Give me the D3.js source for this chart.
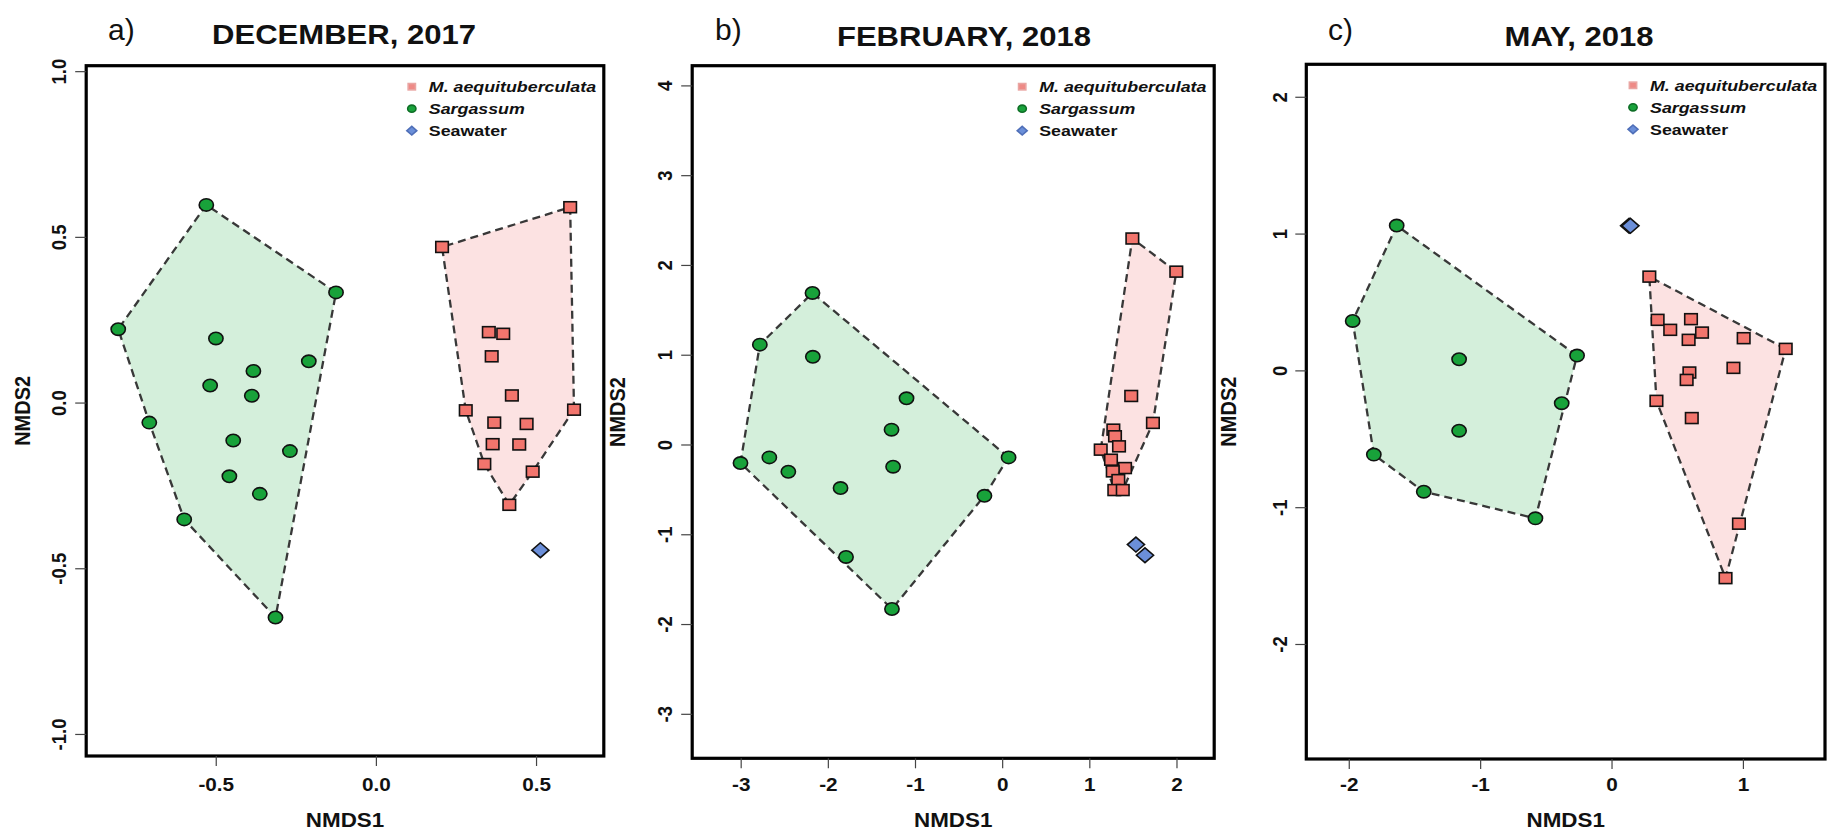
<!DOCTYPE html>
<html>
<head>
<meta charset="utf-8">
<script src="https://cdn.jsdelivr.net/npm/d3@7"></script>
<style>
  body { margin: 0; background: #fff; }
  svg { display: block; }
  text { font-family: "Liberation Sans", Arial, sans-serif; fill: #111; }
</style>
</head>
<body>
<svg id="chart" width="1841" height="833"></svg>
<script>
// ---- data (NMDS1, NMDS2) ----
const decMaeq = [[0.205,0.471],[0.605,0.591],[0.351,0.214],[0.396,0.209],[0.360,0.141],[0.423,0.023],
  [0.279,-0.022],[0.617,-0.020],[0.368,-0.059],[0.469,-0.063],[0.363,-0.124],[0.446,-0.125],
  [0.337,-0.184],[0.488,-0.207],[0.415,-0.307]];
const decSarg = [[-0.531,0.598],[-0.126,0.334],[-0.806,0.223],[-0.501,0.195],[-0.211,0.126],[-0.384,0.097],
  [-0.519,0.053],[-0.389,0.022],[-0.709,-0.059],[-0.447,-0.113],[-0.270,-0.145],[-0.459,-0.221],
  [-0.364,-0.274],[-0.600,-0.351],[-0.315,-0.647]];
const decSea = [[0.512,-0.444]];

const febMaeq = [[1.488,2.300],[1.992,1.931],[1.475,0.546],[1.724,0.246],[1.270,0.171],[1.289,0.097],
  [1.335,-0.015],[1.125,-0.052],[1.243,-0.164],[1.404,-0.257],[1.263,-0.294],[1.327,-0.391],
  [1.281,-0.502],[1.378,-0.502]];
const febSarg = [[-2.182,1.694],[-2.786,1.118],[-2.178,0.982],[-1.103,0.520],[-1.275,0.171],[-3.008,-0.201],
  [-2.677,-0.138],[-2.459,-0.298],[-1.257,-0.242],[0.068,-0.138],[-1.860,-0.480],[-0.209,-0.566],
  [-1.797,-1.247],[-1.270,-1.827]];
const febSea = [[1.529,-1.109],[1.633,-1.228]];

const mayMaeq = [[0.284,0.689],[0.347,0.373],[0.443,0.300],[0.601,0.378],[0.583,0.227],[0.685,0.280],
  [1.002,0.239],[1.322,0.161],[0.924,0.022],[0.589,-0.012],[0.568,-0.066],[0.338,-0.219],
  [0.607,-0.345],[0.966,-1.117],[0.864,-1.515]];
const maySarg = [[-1.639,1.062],[-1.974,0.365],[-1.164,0.085],[-0.266,0.112],[-0.383,-0.236],
  [-1.164,-0.437],[-1.813,-0.612],[-1.433,-0.883],[-0.583,-1.078]];
const maySea = [[0.130,1.060],[0.140,1.060]];

const decXTicks = [-0.5, 0, 0.5];
const decYTicks = [-1, -0.5, 0, 0.5, 1];
const febXTicks = [-3, -2, -1, 0, 1, 2];
const febYTicks = [-3, -2, -1, 0, 1, 2, 3, 4];
const mayXTicks = [-2, -1, 0, 1];
const mayYTicks = [-2, -1, 0, 1, 2];

const titles = ["DECEMBER, 2017", "FEBRUARY, 2018", "MAY, 2018"];
const letters = ["a)", "b)", "c)"];
const groups = ["M. aequituberculata", "Sargassum", "Seawater"];

// ---- layout ----
const SX = 1.12; // the figure is a little stretched horizontally
const colors = { maeq: "#f2756d", sarg: "#18a23a", sea: "#6b8fd9" };
const hullFill = { maeq: "#fce2e2", sarg: "#d4efdb" };

// R style labels use a plain hyphen for negatives
const fmt1 = v => d3.format(".1f")(v).replace("−", "-");
const fmt0 = v => d3.format("d")(v).replace("−", "-");

const panels = [
  { title: titles[0], letter: letters[0], maeq: decMaeq, sarg: decSarg, sea: decSea,
    xDom: [-0.906, 0.710], yDom: [-1.065, 1.018], xR: [86.2, 603.8], yR: [756, 65.7],
    xTicks: decXTicks, yTicks: decYTicks, fmt: fmt1,
    titleX: 344, titleY: 44, letterX: 108, yLabX: 22 },
  { title: titles[1], letter: letters[1], maeq: febMaeq, sarg: febSarg, sea: febSea,
    xDom: [-3.562, 2.427], yDom: [-3.49, 4.225], xR: [692.2, 1214.2], yR: [758.3, 65.7],
    xTicks: febXTicks, yTicks: febYTicks, fmt: fmt0,
    titleX: 964, titleY: 46, letterX: 715, yLabX: 617 },
  { title: titles[2], letter: letters[2], maeq: mayMaeq, sarg: maySarg, sea: maySea,
    xDom: [-2.327, 1.621], yDom: [-2.837, 2.241], xR: [1306.3, 1825], yR: [759, 64.3],
    xTicks: mayXTicks, yTicks: mayYTicks, fmt: fmt0,
    titleX: 1579, titleY: 46, letterX: 1328, yLabX: 1228 }
];

const svg = d3.select("#chart");

function stretchText(g, x, y, str, size, opts = {}) {
  const sx = opts.sx || SX;
  return g.append("text")
    .attr("transform", `translate(${x},${y}) scale(${sx},1)` + (opts.rotate ? " rotate(-90)" : ""))
    .attr("text-anchor", opts.anchor || "middle")
    .attr("dy", opts.dy || 0)
    .style("font-size", size + "px")
    .style("font-weight", opts.weight || "bold")
    .style("font-style", opts.italic ? "italic" : "normal")
    .text(str);
}

function drawMarker(g, kind, x, y, s, fill, stroke) {
  const sx = 1.15;
  if (kind === "sarg") {
    g.append("ellipse").attr("cx", x).attr("cy", y).attr("rx", s * sx).attr("ry", s)
      .attr("fill", fill).attr("stroke", stroke).attr("stroke-width", 1.6);
  } else if (kind === "maeq") {
    const h = s * 0.88;
    g.append("rect").attr("x", x - h * sx).attr("y", y - h).attr("width", 2 * h * sx).attr("height", 2 * h)
      .attr("fill", fill).attr("stroke", stroke).attr("stroke-width", 1.6);
  } else {
    const h = s * 1.2;
    g.append("path")
      .attr("d", `M${x},${y - h}L${x + h * sx},${y}L${x},${y + h}L${x - h * sx},${y}Z`)
      .attr("fill", fill).attr("stroke", stroke).attr("stroke-width", 1.6);
  }
}

panels.forEach(p => {
  const g = svg.append("g");
  const x = d3.scaleLinear().domain(p.xDom).range(p.xR);
  const y = d3.scaleLinear().domain(p.yDom).range(p.yR);
  const [left, right] = p.xR;
  const [bottom, top] = p.yR;

  // convex hulls of the two organism groups
  ["sarg", "maeq"].forEach(k => {
    const pts = p[k].map(d => [x(d[0]), y(d[1])]);
    const hull = d3.polygonHull(pts);
    g.append("path")
      .attr("d", "M" + hull.join("L") + "Z")
      .attr("fill", hullFill[k])
      .attr("stroke", "#383838")
      .attr("stroke-width", 2.3)
      .attr("stroke-dasharray", "8,5");
  });

  // points
  ["maeq", "sarg", "sea"].forEach(k => {
    p[k].forEach(d => drawMarker(g, k, x(d[0]), y(d[1]), 6.2, colors[k], "#111"));
  });

  // box
  g.append("rect").attr("x", left).attr("y", top)
    .attr("width", right - left).attr("height", bottom - top)
    .attr("fill", "none").attr("stroke", "#000").attr("stroke-width", 3.2);

  // x axis
  const xAxis = g.append("g");
  p.xTicks.forEach(t => {
    xAxis.append("line").attr("x1", x(t)).attr("x2", x(t)).attr("y1", bottom).attr("y2", bottom + 10)
      .attr("stroke", "#444").attr("stroke-width", 1.2);
    stretchText(xAxis, x(t), 785, p.fmt(t), 18.5, { dy: "0.35em" });
  });
  // y axis
  const yAxis = g.append("g");
  p.yTicks.forEach(t => {
    yAxis.append("line").attr("x1", left - 11).attr("x2", left).attr("y1", y(t)).attr("y2", y(t))
      .attr("stroke", "#444").attr("stroke-width", 1.2);
    stretchText(yAxis, left - 27, y(t), p.fmt(t), 18.5, { rotate: true, dy: "0.35em" });
  });

  // axis titles
  stretchText(g, (left + right) / 2, 820, "NMDS1", 20, { dy: "0.35em" });
  stretchText(g, p.yLabX, (top + bottom) / 2, "NMDS2", 20, { rotate: true, dy: "0.35em" });

  // title and panel letter
  stretchText(g, p.titleX, p.titleY, p.title, 27, { sx: 1.15 });
  stretchText(g, p.letterX, 40, p.letter, 30, { anchor: "start", weight: "normal", sx: 1 });

  // legend
  const lg = g.append("g");
  const lightFill = { maeq: "#ee8a86", sarg: "#1aa33c", sea: "#6b8fd9" };
  const lightStroke = { maeq: "#e9a5a2", sarg: "#0e6e26", sea: "#4f6fb8" };
  ["maeq", "sarg", "sea"].forEach((k, i) => {
    const cy = top + 21 + i * 22;
    drawMarker(lg, k, right - 192, cy, 3.6, lightFill[k], lightStroke[k]);
    stretchText(lg, right - 175, cy, groups[i], 15.5, { anchor: "start", italic: i < 2, dy: "0.35em", sx: 1.15 });
  });
});
</script>
</body>
</html>
